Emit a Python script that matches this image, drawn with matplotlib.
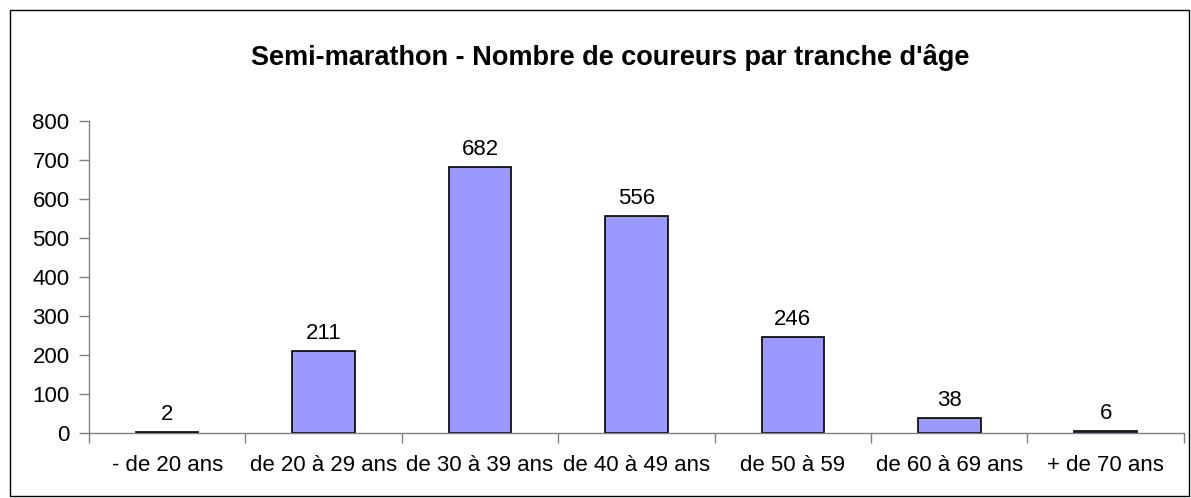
import matplotlib.pyplot as plt
from matplotlib.patches import Rectangle

tranches = ["- de 20 ans", "de 20 à 29 ans", "de 30 à 39 ans", "de 40 à 49 ans",
            "de 50 à 59", "de 60 à 69 ans", "+ de 70 ans"]
coureurs = [2, 211, 682, 556, 246, 38, 6]

plt.rcParams['font.family'] = ['Liberation Sans', 'DejaVu Sans']

fig = plt.figure(figsize=(11.91, 4.98), dpi=100)
ax = fig.add_axes([0.0747, 0.1305, 0.9193, 0.6265])

x = range(len(tranches))
bars = ax.bar(x, coureurs, width=0.4, color='#9999ff', edgecolor='black', linewidth=1.2)
for xi, v in zip(x, coureurs):
    ax.text(xi, v + 18, str(v), ha='center', va='bottom', fontsize=16)

ax.set_xlim(-0.5, len(tranches) - 0.5)
ax.set_ylim(0, 800)
ax.set_yticks(range(0, 801, 100))
ax.tick_params(axis='y', labelsize=16, direction='out', length=7, color='#808080', width=1, pad=7)
ax.set_xticks([i - 0.5 for i in range(len(tranches) + 1)], minor=False)
ax.set_xticklabels([])
ax.set_xticks(list(x), minor=True)
ax.set_xticklabels(tranches, minor=True, fontsize=16)
ax.tick_params(axis='x', which='major', direction='out', length=7, color='#808080', width=1)
ax.tick_params(axis='x', which='minor', length=0, pad=16)

for s in ['top', 'right']:
    ax.spines[s].set_visible(False)
for s in ['left', 'bottom']:
    ax.spines[s].set_color('#808080')
    ax.spines[s].set_linewidth(1)

fig.text(0.512, 0.885, "Semi-marathon - Nombre de coureurs par tranche d'âge",
         ha='center', va='center', fontsize=19.5, fontweight='bold')

fig.patches.append(Rectangle((0.0084, 0.004), 0.99, 0.976, transform=fig.transFigure,
                             fill=False, edgecolor='black', linewidth=1))

fig.savefig('out.png', dpi=100)
